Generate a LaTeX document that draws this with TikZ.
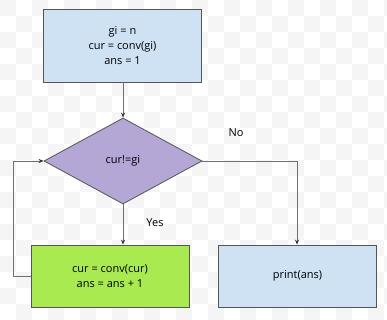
\documentclass[tikz,border=0pt]{standalone}
\usepackage{fontspec}
\setmainfont{Open Sans}
\usetikzlibrary{shapes.geometric,arrows.meta}
\definecolor{bluefill}{HTML}{CFE2F3}
\definecolor{purplefill}{HTML}{B4A7D6}
\definecolor{greenfill}{HTML}{A9EA50}
\definecolor{edgegray}{HTML}{555555}
\definecolor{linegray}{HTML}{707070}
\tikzset{
  box/.style={draw=edgegray, line width=0.8pt, minimum width=158pt, minimum height=62pt, inner sep=0pt, align=center, font=\fontsize{11}{15}\selectfont},
  decision/.style={diamond, draw=edgegray, line width=0.8pt, fill=purplefill, minimum width=158pt, minimum height=86pt, inner sep=0pt, aspect=1.84, font=\fontsize{11}{15}\selectfont},
  conn/.style={draw=linegray, line width=0.8pt, -{Stealth[length=5pt,width=4pt,color=black!80]}},
  lbl/.style={font=\fontsize{11}{13}\selectfont}
}
\begin{document}
\begin{tikzpicture}[x=1pt,y=-1pt]
\useasboundingbox (0,0) rectangle (387,320);
% checkerboard-like background
\fill[white] (0,0) rectangle (387,320);
\foreach \i in {0,...,24} {
  \foreach \j in {0,...,20} {
    \pgfmathtruncatemacro{\parity}{mod(\i+\j,2)}
    \ifnum\parity=0 \fill[black!4] (\i*16,\j*16) rectangle ++(16,16);\fi
  }
}
\node[box, fill=bluefill, minimum height=73pt] (init) at (122.5,45.5) {gi = n\\cur = conv(gi)\\ans = 1};
\node[decision, minimum width=158pt, minimum height=86pt] (cond) at (123,161) {};
\node[font=\fontsize{11}{15}\selectfont] (condtxt) at (123,161) {cur!=gi};
\node[box, fill=greenfill] (body) at (110,276) {cur = conv(cur)\\ans = ans + 1};
\node[box, fill=bluefill] (out) at (297.5,276) {print(ans)};
\coordinate (loopa) at (13,276);
\coordinate (loopb) at (13,161);
\coordinate (nocorner) at (297,161);
\draw[conn] (init.south -| cond.north) -- (cond.north);
\draw[conn] (cond.south) -- (cond.south |- body.north);
\draw[conn] (body.west) -- (loopa) -- (loopb) -- (cond.west);
\draw[conn] (cond.east) -- (nocorner) -- (nocorner |- out.north);
\node[lbl] (no) at (236,133) {No};
\node[lbl] (yes) at (155,223) {Yes};
\end{tikzpicture}
\end{document}
